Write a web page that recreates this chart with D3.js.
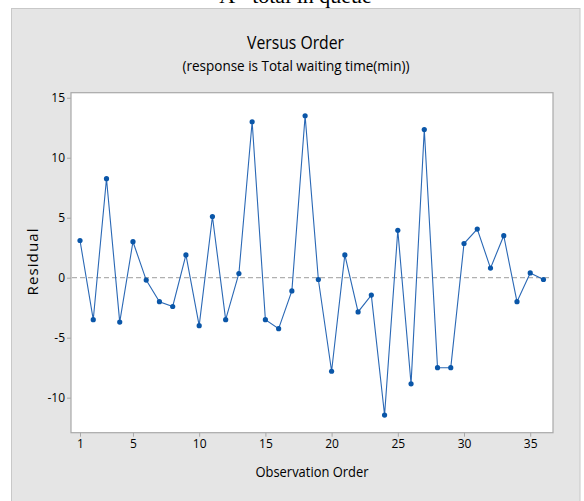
<!DOCTYPE html>
<html>
<head>
<meta charset="utf-8">
<script src="https://cdn.jsdelivr.net/npm/d3@7"></script>
<style>
html,body{margin:0;padding:0;background:#fff;}
svg{display:block;}
</style>
</head>
<body>
<svg id="chart" width="584" height="501"></svg>
<script>
const observations = d3.range(1, 37);
const residuals = [3.1, -3.5, 8.25, -3.7, 3.0, -0.2, -2.0, -2.4, 1.9, -4.0,
  5.1, -3.5, 0.35, 13.0, -3.5, -4.25, -1.1, 13.5, -0.15, -7.8,
  1.9, -2.85, -1.45, -11.45, 3.95, -8.85, 12.35, -7.5, -7.5, 2.85,
  4.05, 0.8, 3.5, -2.0, 0.4, -0.15];
const xTicks = [1, 5, 10, 15, 20, 25, 30, 35];
const yTicks = [-10, -5, 0, 5, 10, 15];
const pageHeading = "A - total in queue";
const title = "Versus Order";
const subtitle = "(response is Total waiting time(min))";
const xLabel = "Observation Order";
const yLabel = "Residual";

const svg = d3.select("#chart");
const font = "'Open Sans', 'Noto Sans', sans-serif";
const L = 71, R = 553, T = 92.7, B = 432.7;

// page heading (cut at top, as in the reference)
svg.append("text").attr("x", 295.5).attr("y", 3).attr("text-anchor", "middle")
  .attr("font-family", "'Liberation Serif', 'DejaVu Serif', serif").attr("font-size", 22)
  .attr("fill", "#000").text(pageHeading);

// panel
svg.append("rect").attr("x", 11.5).attr("y", 8.5).attr("width", 568.5).attr("height", 500)
  .attr("fill", "#e5e5e5").attr("stroke", "#c8c8c8").attr("stroke-width", 1);

const x = d3.scaleLinear().domain([0.32, 36.72]).range([L, R]);
const y = d3.scaleLinear().domain([-12.92, 15.42]).range([B, T]);

// plot area
svg.append("rect").attr("x", L).attr("y", T).attr("width", R - L).attr("height", B - T)
  .attr("fill", "#fff").attr("stroke", "#a8a8a8").attr("stroke-width", 1.2);

// titles
svg.append("text").attr("x", 295.5).attr("y", 48.5).attr("text-anchor", "middle")
  .attr("font-family", font).attr("font-size", 19).attr("fill", "#000")
  .attr("textLength", 97).attr("lengthAdjust", "spacingAndGlyphs").text(title);
svg.append("text").attr("x", 296).attr("y", 71).attr("text-anchor", "middle")
  .attr("font-family", font).attr("font-size", 14.5).attr("fill", "#000")
  .attr("textLength", 227).attr("lengthAdjust", "spacingAndGlyphs").text(subtitle);

// axes
const fmt = d => String(d);
const xAxis = svg.append("g").attr("transform", `translate(0,${B})`)
  .call(d3.axisBottom(x).tickValues(xTicks).tickSize(4).tickPadding(3).tickFormat(fmt));
const yAxis = svg.append("g").attr("transform", `translate(${L},0)`)
  .call(d3.axisLeft(y).tickValues(yTicks).tickSize(4).tickPadding(2).tickFormat(fmt));
[xAxis, yAxis].forEach(g => {
  g.select(".domain").remove();
  g.selectAll(".tick line").attr("stroke", "#a8a8a8");
  g.selectAll(".tick text").attr("font-family", font).attr("font-size", 12).attr("fill", "#000");
});

svg.append("text").attr("x", 312).attr("y", 477).attr("text-anchor", "middle")
  .attr("font-family", font).attr("font-size", 15).attr("fill", "#000")
  .attr("textLength", 113).attr("lengthAdjust", "spacingAndGlyphs").text(xLabel);
svg.append("text").attr("transform", "translate(37.5,262) rotate(-90)").attr("text-anchor", "middle")
  .attr("font-family", font).attr("font-size", 15).attr("fill", "#000")
  .attr("textLength", 67).attr("lengthAdjust", "spacing").text(yLabel);

// zero reference line
svg.append("line").attr("x1", L + 1).attr("x2", R - 1).attr("y1", y(0)).attr("y2", y(0))
  .attr("stroke", "#b0b0b0").attr("stroke-width", 1.2).attr("stroke-dasharray", "5,3");

// series
const data = observations.map((o, i) => ({o, r: residuals[i]}));
svg.append("path").datum(data)
  .attr("d", d3.line().x(d => x(d.o)).y(d => y(d.r)))
  .attr("fill", "none").attr("stroke", "#2a68b5").attr("stroke-width", 1.1);
svg.append("g").selectAll("circle").data(data).join("circle")
  .attr("cx", d => x(d.o)).attr("cy", d => y(d.r)).attr("r", 2.6)
  .attr("fill", "#0a56a8");
</script>
</body>
</html>
